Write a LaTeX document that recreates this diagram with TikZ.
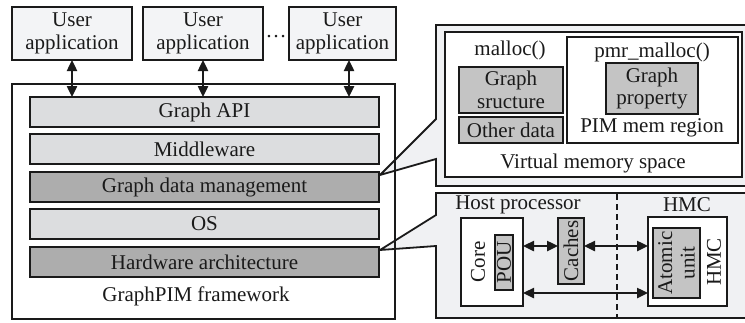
\documentclass[tikz,border=0pt]{standalone}
\usepackage{fontspec}
\setmainfont{Liberation Serif}
\usetikzlibrary{arrows.meta,calc}
\definecolor{panelfill}{HTML}{F0F1F3}
\definecolor{lightlayer}{HTML}{DCDDDF}
\definecolor{darklayer}{HTML}{ADADAD}
\definecolor{innergray}{HTML}{C4C4C4}
\definecolor{appfill}{HTML}{F3F4F6}
\definecolor{ink}{HTML}{1A1A1A}
\begin{document}
\begin{tikzpicture}[x=1pt,y=-1pt,
  every node/.style={font=\fontsize{21}{22.5}\selectfont, text=ink, inner sep=0pt, outer sep=0pt, align=center},
  box/.style={draw=ink, line width=1.8pt, rectangle},
  appbox/.style={box, fill=appfill, minimum height=53},
  layer/.style={box, minimum width=349, minimum height=30},
  graybox/.style={box, line width=1.6pt, fill=innergray},
  whitebox/.style={box, line width=1.6pt, fill=white},
  panel/.style={draw=ink, line width=1.8pt, fill=panelfill, line join=miter},
  dbl/.style={{Triangle[length=11pt,width=10pt]}-{Triangle[length=11pt,width=10pt]}, line width=2.4pt, draw=ink}
]
\useasboundingbox (0,0) rectangle (745,322);

% user applications
\node[appbox, minimum width=120] (u1) at (72,33.5) {User\\application};
\node[appbox, minimum width=120] (u2) at (203,33.5) {User\\application};
\node[appbox, minimum width=107] (u3) at (342.5,33.5) {User\\application};
\node[anchor=base] (dots) at (276,37) {\dots};

% callout panels
\draw[panel] (436,25) -- (750,25) -- (750,186) -- (436,186) -- (436,159) -- (380,175) -- (436,119) -- cycle;
\draw[panel] (436,193) -- (750,193) -- (750,318) -- (436,318) -- (436,246) -- (380,250) -- (436,215) -- cycle;

% framework
\node[box, minimum width=383, minimum height=235] (fw) at (203.5,201.5) {};
\node[layer, fill=lightlayer] (api) at (204.5,112) {Graph API};
\node[layer, fill=lightlayer] (mid) at (204.5,149) {Middleware};
\node[layer, fill=darklayer] (gdm) at (204.5,187) {Graph data management};
\node[layer, fill=lightlayer] (os) at (204.5,224) {OS};
\node[layer, fill=darklayer] (hw) at (204.5,262) {Hardware architecture};
\node (fwlabel) at (196,296) {GraphPIM framework};

\draw[dbl] (u1.south) -- (u1.south |- api.north);
\draw[dbl] (u2.south) -- (u2.south |- api.north);
\draw[dbl] ([xshift=6.5pt]u3.south) -- ([xshift=6.5pt]u3.south |- api.north);

% virtual memory panel
\node[whitebox, line width=1.8pt, minimum width=297, minimum height=145] (vm) at (593.5,104.5) {};
\node (malloc) at (510,50) {malloc()};
\node[graybox, minimum width=104, minimum height=46] (gs) at (511,90) {Graph\\sructure};
\node[graybox, minimum width=104, minimum height=26] (od) at (511,130) {Other data};
\node[whitebox, line width=1.8pt, minimum width=171, minimum height=106] (pim) at (652.5,90) {};
\node (pmr) at (652,52) {pmr\_malloc()};
\node[graybox, minimum width=92, minimum height=51] (gp) at (652,88.5) {Graph\\property};
\node (pimlabel) at (652,128) {PIM mem region};
\node (vmlabel) at (593,163) {Virtual memory space};

% host / HMC panel
\draw[ink, line width=1.4pt, dash pattern=on 6pt off 4pt] (617,194) -- (617,318);
\node (host) at (518,205) {Host processor};
\node (hmclabel) at (687,205) {HMC};
\node[whitebox, minimum width=62, minimum height=88] (core) at (492,262) {};
\node[rotate=90] (coretext) at (478,262) {Core};
\node[graybox, rotate=90, minimum width=55, minimum height=18] (pou) at (504,262.5) {POU};
\node[graybox, rotate=90, minimum width=66, minimum height=26] (caches) at (571,251) {Caches};
\node[whitebox, minimum width=79, minimum height=89] (hmc) at (687.5,261.5) {};
\node[graybox, rotate=90, minimum width=70, minimum height=47] (atomic) at (676.5,263) {Atomic\\unit};
\node[rotate=90] (hmctext) at (714,262) {HMC};

\draw[dbl] (core.east |- 0,246) -- (caches.north |- 0,246);
\draw[dbl] (caches.south |- 0,246) -- (hmc.west |- 0,246);
\draw[dbl] (core.east |- 0,293) -- (hmc.west |- 0,293);
\end{tikzpicture}
\end{document}
